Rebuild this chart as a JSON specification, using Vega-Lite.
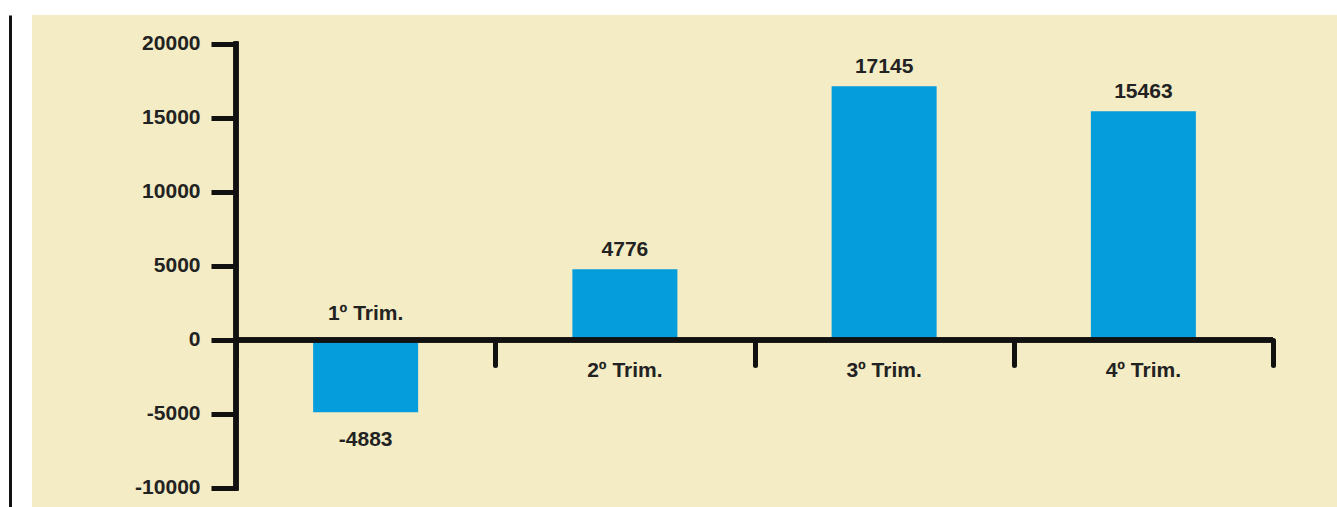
{
  "$schema": "https://vega.github.io/schema/vega-lite/v6.json",
  "width": 1305,
  "height": 492,
  "autosize": {"type": "none"},
  "padding": {"left": 32, "top": 15, "right": 0, "bottom": 0},
  "background": "#ffffff",
  "config": {
    "view": {"fill": "#f3ecc4", "stroke": null},
    "text": {"font": "Liberation Sans"},
    "axis": {"labelFont": "Liberation Sans", "grid": false}
  },
  "data": {
    "values": [
      {"q": "1º Trim.", "v": -4883},
      {"q": "2º Trim.", "v": 4776},
      {"q": "3º Trim.", "v": 17145},
      {"q": "4º Trim.", "v": 15463}
    ]
  },
  "resolve": {"axis": {"y": "independent"}},
  "layer": [
    {
      "mark": {"type": "bar", "width": {"band": 0.405}, "color": "#069ddc"},
      "encoding": {
        "x": {
          "field": "q", "type": "nominal", "sort": null,
          "scale": {"domain": ["1º Trim.", "2º Trim.", "3º Trim.", "4º Trim."], "paddingInner": 0, "paddingOuter": 0.5169, "align": 0.7612},
          "axis": {"orient": "bottom", "offset": -167, "domain": false, "labels": false, "ticks": true, "tickBand": "extent", "tickSize": 25, "tickWidth": 5, "tickColor": "#111111", "tickCap": "round", "title": null}
        },
        "y": {
          "field": "v", "type": "quantitative",
          "scale": {"domain": [-11284, 21959], "nice": false, "zero": false},
          "axis": {"orient": "left", "offset": -204, "domain": false, "values": [-10000, -5000, 0, 5000, 10000, 15000, 20000], "labelExpr": "'' + datum.value", "tickSize": 25, "tickWidth": 5, "tickColor": "#111111", "labelFontSize": 21, "labelFontWeight": "bold", "labelColor": "#222222", "labelPadding": 11, "title": null}
        }
      }
    },
    {
      "mark": {"type": "rule", "strokeWidth": 5, "color": "#111111", "strokeCap": "square"},
      "encoding": {
        "x": {"datum": "1º Trim.", "type": "nominal", "bandPosition": 0},
        "y": {"datum": -10000, "type": "quantitative", "axis": null},
        "y2": {"datum": 20000}
      }
    },
    {
      "mark": {"type": "rule", "strokeWidth": 5, "color": "#111111"},
      "encoding": {
        "x": {"datum": "1º Trim.", "type": "nominal", "bandPosition": 0},
        "x2": {"datum": "4º Trim.", "bandPosition": 1},
        "y": {"datum": 0, "type": "quantitative", "axis": {"orient": "left", "offset": 22, "domain": true, "domainWidth": 3, "domainColor": "#111111", "ticks": false, "labels": false, "title": null}}
      }
    },
    {
      "transform": [{"filter": "datum.v >= 0"}],
      "mark": {"type": "text", "fontSize": 21, "fontWeight": "bold", "baseline": "alphabetic", "dy": -13, "color": "#222222"},
      "encoding": {
        "x": {"field": "q", "type": "nominal"},
        "y": {"field": "v", "type": "quantitative", "axis": null},
        "text": {"field": "v", "type": "quantitative", "format": "d"}
      }
    },
    {
      "transform": [{"filter": "datum.v >= 0"}],
      "mark": {"type": "text", "fontSize": 21, "fontWeight": "bold", "baseline": "alphabetic", "dy": 37, "color": "#222222"},
      "encoding": {
        "x": {"field": "q", "type": "nominal"},
        "y": {"datum": 0, "type": "quantitative", "axis": null},
        "text": {"field": "q", "type": "nominal"}
      }
    },
    {
      "transform": [{"filter": "datum.v < 0"}],
      "mark": {"type": "text", "fontSize": 21, "fontWeight": "bold", "baseline": "alphabetic", "dy": 34, "color": "#222222"},
      "encoding": {
        "x": {"field": "q", "type": "nominal"},
        "y": {"field": "v", "type": "quantitative", "axis": null},
        "text": {"field": "v", "type": "nominal"}
      }
    },
    {
      "transform": [{"filter": "datum.v < 0"}],
      "mark": {"type": "text", "fontSize": 21, "fontWeight": "bold", "baseline": "alphabetic", "dy": -20, "color": "#222222"},
      "encoding": {
        "x": {"field": "q", "type": "nominal"},
        "y": {"datum": 0, "type": "quantitative", "axis": null},
        "text": {"field": "q", "type": "nominal"}
      }
    }
  ]
}
